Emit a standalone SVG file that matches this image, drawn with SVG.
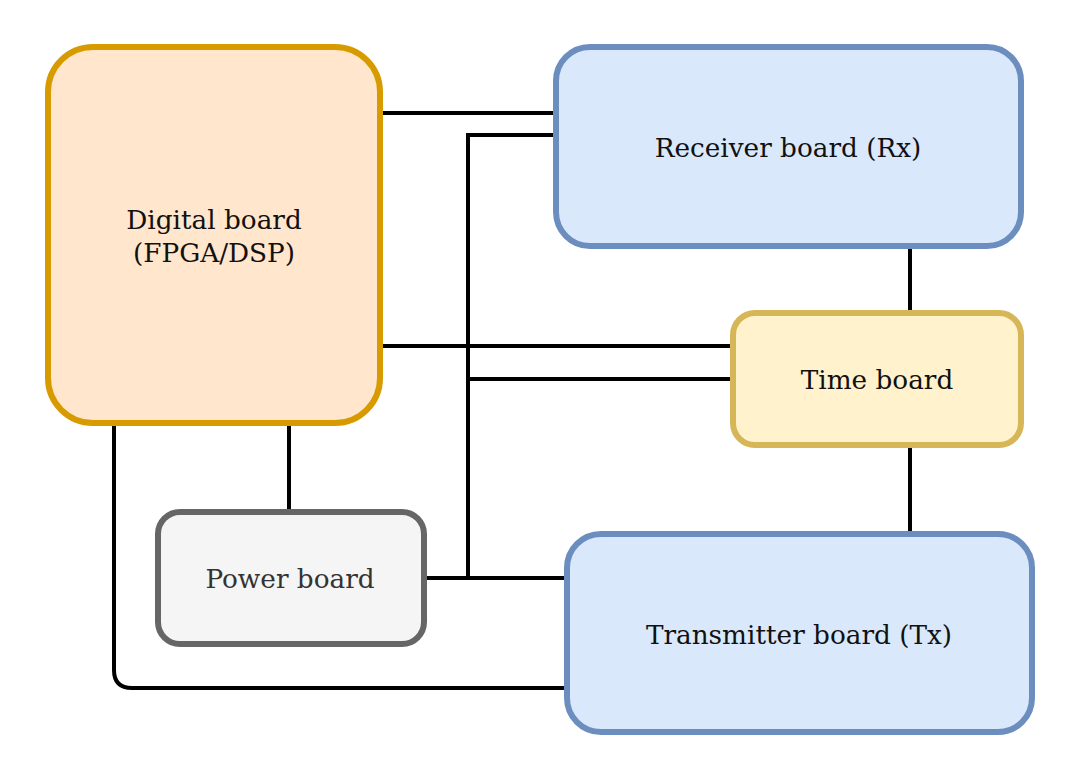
<svg xmlns="http://www.w3.org/2000/svg" width="1080" height="780" viewBox="0 0 1080 780">
<style>
text{font-family:"DejaVu Serif","Liberation Serif",serif;font-size:26.3px;text-anchor:middle;dominant-baseline:central;fill:#111}
.box{stroke-width:6}
.blue{fill:#dae8fc;stroke:#6c8ebf}
.wire{fill:none;stroke:#000;stroke-width:4}
</style>
<rect width="1080" height="780" fill="#fff"/>
<g id="connectors">
<path class="wire" d="M380,113H556"/>
<path class="wire" d="M556,135H468V578"/>
<path class="wire" d="M468,379H733"/>
<path class="wire" d="M380,346H733"/>
<path class="wire" d="M424,578H567"/>
<path class="wire" d="M910,246V313"/>
<path class="wire" d="M910,445V534"/>
<path class="wire" d="M289,423V512"/>
<path class="wire" d="M114,423V670Q114,688 132,688H567"/>
</g>
<g id="digital">
<rect class="box" x="48" y="47" width="332" height="376" rx="45" fill="#ffe6cc" stroke="#d79b00"/>
<text x="214" y="220">Digital board</text>
<text x="214" y="253">(FPGA/DSP)</text>
</g>
<g id="receiver">
<rect class="box blue" x="556" y="47" width="465" height="199" rx="34"/>
<text x="788" y="148">Receiver board (Rx)</text>
</g>
<g id="time">
<rect class="box" x="733" y="313" width="288" height="132" rx="22" fill="#fff2cc" stroke="#d6b656"/>
<text x="877" y="380">Time board</text>
</g>
<g id="transmitter">
<rect class="box blue" x="567" y="534" width="465" height="198" rx="34"/>
<text x="799" y="635">Transmitter board (Tx)</text>
</g>
<g id="power">
<rect class="box" x="158" y="512" width="266" height="132" rx="22" fill="#f5f5f5" stroke="#666666"/>
<text x="290" y="579" style="fill:#333">Power board</text>
</g>
</svg>
